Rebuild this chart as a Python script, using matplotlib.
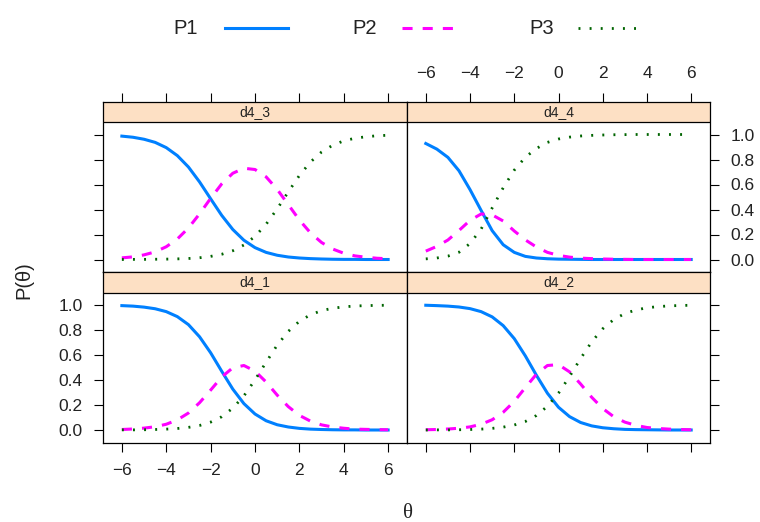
import matplotlib
matplotlib.use("Agg")
import matplotlib.pyplot as plt
from matplotlib.lines import Line2D

plt.rcParams['font.family'] = ['Liberation Sans', 'DejaVu Sans']

# ability grid
theta = [-6.0, -5.5, -5.0, -4.5, -4.0, -3.5, -3.0, -2.5, -2.0, -1.5, -1.0, -0.5,
         0.0, 0.5, 1.0, 1.5, 2.0, 2.5, 3.0, 3.5, 4.0, 4.5, 5.0, 5.5, 6.0]

# category response curves per item
d4_1_p1 = [0.995, 0.991, 0.983, 0.970, 0.947, 0.907, 0.843, 0.746, 0.618, 0.470, 0.327, 0.211,
           0.128, 0.074, 0.042, 0.024, 0.013, 0.007, 0.004, 0.002, 0.001, 0.001, 0.000, 0.000, 0.000]
d4_1_p2 = [0.004, 0.008, 0.015, 0.026, 0.046, 0.081, 0.136, 0.218, 0.319, 0.424, 0.498, 0.516,
           0.471, 0.384, 0.279, 0.187, 0.117, 0.071, 0.041, 0.024, 0.014, 0.007, 0.005, 0.003, 0.002]
d4_1_p3 = [0.001, 0.001, 0.002, 0.004, 0.007, 0.012, 0.021, 0.036, 0.063, 0.106, 0.175, 0.273,
           0.401, 0.542, 0.679, 0.789, 0.870, 0.922, 0.955, 0.974, 0.985, 0.992, 0.995, 0.997, 0.998]

d4_2_p1 = [0.998, 0.995, 0.991, 0.984, 0.971, 0.947, 0.905, 0.835, 0.731, 0.593, 0.438, 0.294,
           0.182, 0.107, 0.060, 0.033, 0.018, 0.010, 0.005, 0.003, 0.002, 0.001, 0.000, 0.000, 0.000]
d4_2_p2 = [0.002, 0.004, 0.008, 0.014, 0.025, 0.046, 0.082, 0.142, 0.229, 0.339, 0.446, 0.516,
           0.523, 0.465, 0.368, 0.262, 0.172, 0.106, 0.063, 0.037, 0.020, 0.012, 0.007, 0.004, 0.002]
d4_2_p3 = [0.000, 0.001, 0.001, 0.002, 0.004, 0.007, 0.013, 0.023, 0.040, 0.068, 0.116, 0.190,
           0.295, 0.428, 0.572, 0.705, 0.810, 0.884, 0.932, 0.960, 0.978, 0.987, 0.993, 0.996, 0.998]

d4_3_p1 = [0.987, 0.978, 0.962, 0.937, 0.895, 0.831, 0.740, 0.621, 0.486, 0.353, 0.240, 0.154,
           0.095, 0.057, 0.034, 0.020, 0.012, 0.007, 0.004, 0.002, 0.001, 0.001, 0.000, 0.000, 0.000]
d4_3_p2 = [0.013, 0.021, 0.037, 0.061, 0.102, 0.164, 0.252, 0.365, 0.489, 0.605, 0.690, 0.730,
           0.720, 0.661, 0.561, 0.439, 0.316, 0.213, 0.136, 0.084, 0.050, 0.029, 0.018, 0.010, 0.006]
d4_3_p3 = [0.000, 0.001, 0.001, 0.002, 0.003, 0.005, 0.008, 0.014, 0.025, 0.042, 0.070, 0.116,
           0.185, 0.282, 0.405, 0.541, 0.672, 0.780, 0.860, 0.914, 0.949, 0.970, 0.982, 0.990, 0.994]

d4_4_p1 = [0.928, 0.883, 0.817, 0.710, 0.559, 0.393, 0.231, 0.118, 0.057, 0.025, 0.012, 0.006,
           0.003, 0.002, 0.001, 0.000, 0.000, 0.000, 0.000, 0.000, 0.000, 0.000, 0.000, 0.000, 0.000]
d4_4_p2 = [0.067, 0.105, 0.156, 0.232, 0.313, 0.364, 0.357, 0.308, 0.228, 0.157, 0.100, 0.057,
           0.033, 0.019, 0.011, 0.007, 0.004, 0.002, 0.001, 0.000, 0.000, 0.000, 0.000, 0.000, 0.000]
d4_4_p3 = [0.005, 0.012, 0.027, 0.058, 0.128, 0.243, 0.412, 0.574, 0.715, 0.818, 0.888, 0.937,
           0.964, 0.979, 0.988, 0.993, 0.996, 0.998, 0.999, 1.000, 1.000, 1.000, 1.000, 1.000, 1.000]

categories = ['P1', 'P2', 'P3']
x_ticks = [-6, -4, -2, 0, 2, 4, 6]
y_ticks = [0.0, 0.2, 0.4, 0.6, 0.8, 1.0]

styles = [
    dict(color='#0080ff', lw=2.2, ls='-'),
    dict(color='#ff00ff', lw=2.2, ls=(0, (3.3, 3.3))),
    dict(color='#006400', lw=2.0, ls=(0, (0.7, 3.3))),
]
strip_col = '#fde0c4'

W, H = 760, 522
fig = plt.figure(figsize=(W / 100, H / 100), dpi=100)


def px_box(x0, x1, y0, y1):
    return [x0 / W, 1 - y1 / H, (x1 - x0) / W, (y1 - y0) / H]


# name, curves, box, which sides get ticks / labels
layout = [
    ('d4_3', (d4_3_p1, d4_3_p2, d4_3_p3), px_box(103, 407, 101.5, 272),
     dict(left=True, labelleft=False, top=True, labeltop=False, bottom=False, labelbottom=False,
          right=False, labelright=False)),
    ('d4_4', (d4_4_p1, d4_4_p2, d4_4_p3), px_box(407, 710, 101.5, 272),
     dict(left=False, labelleft=False, top=True, labeltop=True, bottom=False, labelbottom=False,
          right=True, labelright=True)),
    ('d4_1', (d4_1_p1, d4_1_p2, d4_1_p3), px_box(103, 407, 272, 442.5),
     dict(left=True, labelleft=True, top=False, labeltop=False, bottom=True, labelbottom=True,
          right=False, labelright=False)),
    ('d4_2', (d4_2_p1, d4_2_p2, d4_2_p3), px_box(407, 710, 272, 442.5),
     dict(left=False, labelleft=False, top=False, labeltop=False, bottom=True, labelbottom=False,
          right=True, labelright=False)),
]

y_lo, y_hi, strip_top = -0.1, 1.1, 1.264

for name, curves, box, sides in layout:
    ax = fig.add_axes(box)
    for vals, st in zip(curves, styles):
        ax.plot(theta, vals, color=st['color'], lw=st['lw'], linestyle=st['ls'])
    ax.set_xlim(-6.85, 6.85)
    ax.set_ylim(y_lo, strip_top)
    ax.axhspan(y_hi, strip_top, facecolor=strip_col, edgecolor='none', zorder=0)
    ax.axhline(y_hi, color='black', lw=0.9)
    ax.text(0, (y_hi + strip_top) / 2, name, ha='center', va='center', fontsize=10, color='#222222')
    ax.set_xticks(x_ticks)
    ax.set_yticks(y_ticks)
    ax.set_yticklabels([f'{v:.1f}' for v in y_ticks])
    ax.tick_params(direction='out', length=6.5, width=0.8, pad=8, labelsize=12.5,
                   labelcolor='#222222', **sides)
    for sp in ax.spines.values():
        sp.set_linewidth(0.9)

# key above the panels
key_y = 1 - 28 / H
key_pos = [(173, 225, 288), (352, 402, 458), (529, 578, 639)]
for lab, st, (tx, l0, l1) in zip(categories, styles, key_pos):
    fig.text(tx / W, key_y, lab, ha='left', va='center', fontsize=14.5, color='#222222')
    fig.add_artist(Line2D([l0 / W, l1 / W], [key_y, key_y], color=st['color'],
                          lw=st['lw'], linestyle=st['ls']))

fig.text(408 / W, 1 - 513 / H, 'θ', ha='center', va='center', fontsize=15,
         family='Liberation Serif', color='#222222')
fig.text(24 / W, 1 - 280 / H, 'P(θ)', ha='center', va='center', fontsize=14.5,
         rotation=90, color='#222222')

fig.savefig('out.png', dpi=100)
